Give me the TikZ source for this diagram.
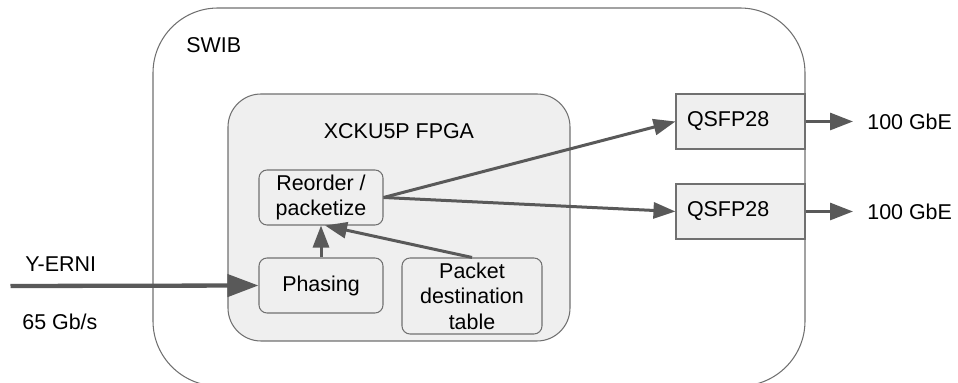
\documentclass[tikz,border=0pt]{standalone}
\usepackage{fontspec}
\setmainfont{Liberation Sans}
\usetikzlibrary{arrows.meta}
\definecolor{linegray}{HTML}{595959}
\definecolor{edgegray}{HTML}{707070}
\definecolor{fillgray}{HTML}{EFEFEF}
\begin{document}
\begin{tikzpicture}[
    every node/.style={font=\fontsize{12.2pt}{14.6pt}\selectfont},
    block/.style={draw=edgegray, fill=fillgray, line width=0.6pt, rounded corners=0.16cm, minimum width=2.48cm, minimum height=1.10cm, align=center, inner sep=0pt},
    port/.style={draw=edgegray, fill=fillgray, line width=0.6pt, minimum height=1.10cm, text width=2.14cm, inner xsep=0.22cm, align=left},
    link/.style={-{Triangle[length=0.44cm, width=0.32cm]}, draw=linegray, line width=0.06cm},
    feed/.style={-{Triangle[length=0.62cm, width=0.44cm]}, draw=linegray, line width=0.086cm}
]
\clip (0,0) rectangle (19.16,-7.66);

% Boards
\draw[draw=edgegray, line width=0.6pt, rounded corners=1.3cm] (3.06,-0.16) rectangle (16.10,-7.72);
\node[anchor=base west, inner sep=0pt] (swib) at (3.72,-1.06) {SWIB};
\draw[draw=edgegray, fill=fillgray, line width=0.6pt, rounded corners=0.66cm] (4.56,-1.88) rectangle (11.40,-6.82);
\node[anchor=base, inner sep=0pt] (fpga) at (7.98,-2.77) {XCKU5P FPGA};

% Blocks
\node[block] (reorder) at (6.42,-3.95) {Reorder /\\packetize};
\node[block] (phasing) at (6.42,-5.71) {Phasing};
\node[block, minimum width=2.80cm, minimum height=1.52cm] (table) at (9.44,-5.92) {Packet\\destination\\table};

% Input
\coordinate (yerni) at (0.21,-5.72);
\node[anchor=base west, inner sep=0pt] (yerni-name) at (0.50,-5.44) {Y-ERNI};
\node[anchor=base west, inner sep=0pt] (yerni-rate) at (0.44,-6.60) {65 Gb/s};
\draw[feed] (yerni) -- (phasing.west);

% Outputs
\foreach \p/\y in {qsfpA/-2.43, qsfpB/-4.23} {
    \node[port] (\p) at (14.81,\y) {QSFP28};
    \node[anchor=west, inner xsep=0.28cm, inner ysep=0pt] (\p-out) at (17.06,\y) {100 GbE};
    \draw[link, -{Triangle[length=0.46cm, width=0.34cm]}] (\p.east) -- (\p-out.west);
    \draw[link] (reorder.east) -- (\p.west);
}

% Internal links
\draw[link] (phasing.north) -- (reorder.south);
\draw[link] (table.north) -- ([xshift=0.08cm]reorder.south);

\end{tikzpicture}
\end{document}
